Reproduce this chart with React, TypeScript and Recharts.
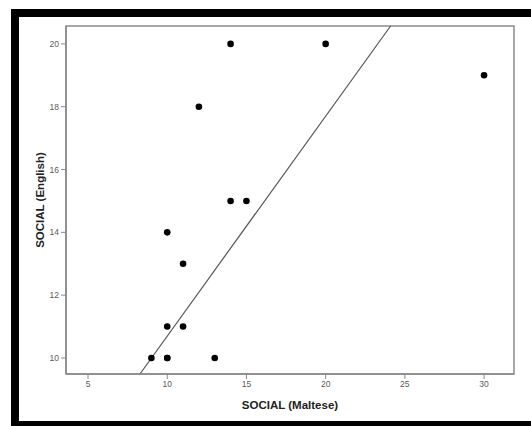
import {
  ReferenceArea,
  ReferenceLine,
  Scatter,
  ScatterChart,
  XAxis,
  YAxis
} from 'recharts'

// SOCIAL scores, one row per respondent
const maltese = [9, 10, 10, 13, 10, 11, 11, 10, 14, 15, 12, 14, 20, 30]
const english = [10, 10, 10, 10, 11, 11, 13, 14, 15, 15, 18, 20, 20, 19]

const xTicks = [5, 10, 15, 20, 25, 30]
const yTicks = [10, 12, 14, 16, 18, 20]

const xDomain: [number, number] = [3.61, 31.89]
const yDomain: [number, number] = [9.49, 20.57]

// fit line, read at the frame edges
const fitX = [8.28, 24.1]
const fitY = [9.49, 20.57]

const points = maltese.map((m, i) => ({ x: m, y: english[i] }))
const fitLine = fitX.map((x, i) => ({ x, y: fitY[i] }))

const tickStyle = {
  fill: '#5a5a5a',
  fontSize: 8.5,
  fontFamily: '"Liberation Sans", Arial, sans-serif'
}

const axisColor = '#8a8a8a'

export default function App() {
  return (
    <div
      style={{
        position: 'absolute',
        left: 0,
        top: 0,
        width: 531,
        height: 426,
        overflow: 'hidden',
        background: '#fff'
      }}
    >
      <div
        style={{
          position: 'absolute',
          left: 11,
          top: 9,
          width: 528,
          height: 420,
          border: '8px solid #000',
          boxSizing: 'border-box'
        }}
      />
      <div style={{ position: 'absolute', left: 0, top: 0 }}>
        <ScatterChart
          width={531}
          height={426}
          margin={{ top: 26, right: 17, bottom: 0, left: 0 }}
        >
          <ReferenceArea
            x1={xDomain[0]}
            x2={xDomain[1]}
            y1={yDomain[0]}
            y2={yDomain[1]}
            fill="none"
            stroke={axisColor}
            strokeWidth={1.5}
            ifOverflow="visible"
          />
          <XAxis
            type="number"
            dataKey="x"
            domain={xDomain}
            ticks={xTicks}
            allowDataOverflow
            height={52}
            tickSize={5}
            tickLine={{ stroke: axisColor }}
            axisLine={{ stroke: axisColor, strokeWidth: 1.5 }}
            tick={tickStyle}
            label={{
              value: 'SOCIAL (Maltese)',
              position: 'insideBottom',
              offset: 17,
              fill: '#222',
              fontSize: 11.5,
              fontWeight: 'bold',
              fontFamily: '"Liberation Sans", Arial, sans-serif'
            }}
          />
          <YAxis
            type="number"
            dataKey="y"
            domain={yDomain}
            ticks={yTicks}
            allowDataOverflow
            width={66}
            tickSize={5}
            tickLine={{ stroke: axisColor }}
            axisLine={{ stroke: axisColor, strokeWidth: 1.5 }}
            tick={tickStyle}
            label={{
              value: 'SOCIAL (English)',
              angle: -90,
              position: 'insideLeft',
              offset: 40,
              style: { textAnchor: 'middle' },
              fill: '#222',
              fontSize: 11.5,
              fontWeight: 'bold',
              fontFamily: '"Liberation Sans", Arial, sans-serif'
            }}
          />
          <ReferenceLine
            segment={fitLine}
            stroke="#555"
            strokeWidth={1.2}
            ifOverflow="visible"
          />
          <Scatter
            data={points}
            fill="#000"
            isAnimationActive={false}
            shape={(props: any) => (
              <circle cx={props.cx} cy={props.cy} r={3.3} fill="#000" />
            )}
          />
        </ScatterChart>
      </div>
    </div>
  )
}
